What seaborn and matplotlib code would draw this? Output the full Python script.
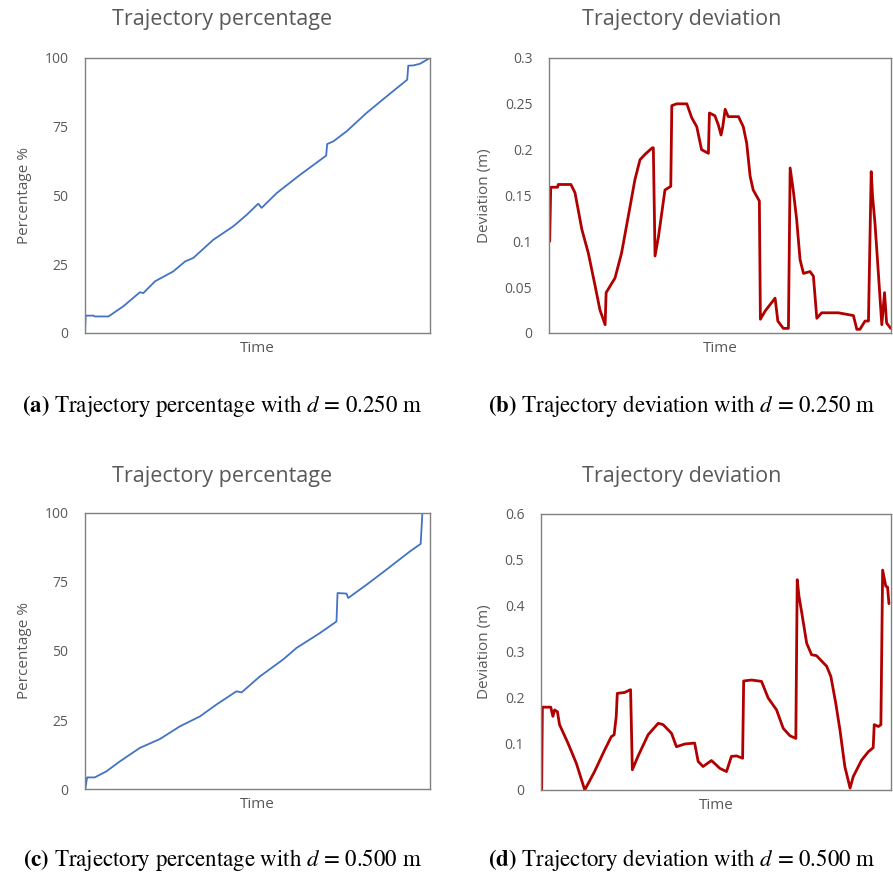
import numpy as np
import pandas as pd
import matplotlib
matplotlib.use('Agg')
import matplotlib.pyplot as plt
import seaborn as sns

# time is normalised to 0..100 (the original plots show no time ticks)
# (a) trajectory percentage, d = 0.250 m
pct_a_time = [0, 0.2, 2.4, 2.9, 6.8, 11.1, 15.9, 16.9, 20.3, 25.6, 29.0, 31.4, 37.2, 43.0,
              46.9, 50.2, 51.2, 55.6, 61.8, 69.9, 70.2, 72.0, 75.8, 81.6, 87.4, 93.4, 93.7,
              95.2, 97.1, 100]
pct_a_vals = [0, 6.3, 6.3, 6.0, 6.0, 9.7, 14.8, 14.5, 18.8, 22.4, 26.0, 27.3, 33.9, 38.8,
              43.0, 47.0, 45.5, 50.9, 57.0, 64.5, 68.7, 69.7, 73.3, 80.0, 86.0, 92.1, 97.2,
              97.3, 97.9, 100]

# (b) trajectory deviation, d = 0.250 m
dev_b_time = [0.2, 0.5, 2.5, 2.7, 6.4, 7.6, 9.6, 11.5, 13.5, 14.9, 16.4, 16.7, 19.3, 21.2,
              23.7, 25.1, 26.6, 28.1, 30.2, 30.5, 31.0, 32.0, 33.9, 35.6, 35.9, 37.3, 40.3,
              41.7, 43.2, 44.6, 46.6, 46.9, 48.5, 49.5, 50.3, 50.8, 51.5, 52.4, 55.4, 56.8,
              57.8, 58.8, 59.7, 61.5, 61.8, 63.2, 66.1, 66.9, 68.5, 70.0, 70.5, 71.4, 72.4,
              73.4, 74.4, 76.3, 77.3, 78.3, 79.7, 82.7, 84.6, 89.0, 90.0, 90.9, 92.4, 93.4,
              94.2, 94.6, 95.3, 96.3, 97.3, 98.1, 98.7, 99.9]
dev_b_vals = [0.100, 0.159, 0.159, 0.162, 0.162, 0.153, 0.113, 0.087, 0.051, 0.025, 0.009, 0.044, 0.060, 0.087,
              0.138, 0.167, 0.189, 0.195, 0.202, 0.202, 0.084, 0.105, 0.156, 0.160, 0.248, 0.250, 0.250,
              0.235, 0.225, 0.200, 0.196, 0.240, 0.237, 0.227, 0.216, 0.225, 0.244, 0.236, 0.236, 0.225,
              0.207, 0.171, 0.156, 0.144, 0.015, 0.024, 0.038, 0.013, 0.005, 0.005, 0.180, 0.156, 0.124,
              0.080, 0.065, 0.067, 0.062, 0.016, 0.022, 0.022, 0.022, 0.019, 0.004, 0.004, 0.013, 0.013,
              0.176, 0.149, 0.120, 0.065, 0.009, 0.044, 0.011, 0.005]

# (c) trajectory percentage, d = 0.500 m
pct_c_time = [0.1, 0.6, 2.8, 6.2, 10.1, 15.9, 21.7, 27.5, 33.3, 38.1, 43.9, 45.4, 50.7,
              57.4, 61.3, 68.1, 72.9, 73.2, 75.8, 76.3, 81.6, 87.4, 94.2, 97.3, 97.8, 100]
pct_c_vals = [0, 4.2, 4.2, 6.4, 10.0, 14.9, 18.1, 22.7, 26.3, 30.6, 35.4, 35.0, 40.8,
              46.9, 51.1, 56.5, 60.7, 71.0, 70.8, 69.2, 74.0, 79.5, 86.1, 88.8, 100, 100]

# (d) trajectory deviation, d = 0.500 m
dev_d_time = [0.2, 0.4, 2.8, 3.4, 3.9, 4.7, 5.3, 7.7, 10.1, 12.5, 15.3, 18.2, 20.1, 20.9,
              21.5, 21.8, 23.9, 25.6, 26.1, 27.7, 30.6, 33.5, 34.9, 37.3, 38.7, 41.1, 43.9,
              44.9, 46.3, 48.7, 51.1, 53.0, 54.4, 55.9, 57.6, 57.9, 60.2, 63.0, 64.9, 67.3,
              69.2, 71.1, 72.8, 73.2, 73.7, 74.5, 75.9, 77.3, 78.7, 81.6, 82.8, 84.2, 85.4,
              86.8, 88.3, 89.2, 91.6, 93.5, 94.9, 95.2, 96.4, 97.1, 97.6, 98.5, 99.0, 99.4]
dev_d_vals = [0, 0.18, 0.18, 0.16, 0.174, 0.17, 0.142, 0.102, 0.058, 0.0, 0.04, 0.087, 0.116, 0.12,
              0.16, 0.21, 0.212, 0.218, 0.044, 0.073, 0.12, 0.145, 0.142, 0.123, 0.094, 0.1, 0.102,
              0.062, 0.051, 0.064, 0.047, 0.04, 0.073, 0.074, 0.069, 0.237, 0.239, 0.236, 0.2, 0.174,
              0.134, 0.118, 0.112, 0.457, 0.421, 0.385, 0.319, 0.294, 0.292, 0.269, 0.247, 0.189, 0.131,
              0.051, 0.004, 0.029, 0.065, 0.083, 0.092, 0.142, 0.138, 0.142, 0.478, 0.443, 0.441, 0.405]

pct_ticks = [0, 25, 50, 75, 100]
dev_b_ticks = [0, 0.05, 0.1, 0.15, 0.2, 0.25, 0.3]
dev_d_ticks = [0, 0.1, 0.2, 0.3, 0.4, 0.5, 0.6]

BLUE = '#4472C4'
RED = '#B00000'
GRAY = '#595959'

sns.set_theme(style='white')
plt.rcParams['font.family'] = ['Open Sans', 'DejaVu Sans']
plt.rcParams['mathtext.fontset'] = 'stix'

fig = plt.figure(figsize=(8.93, 8.76), dpi=100)

panels = [
    # axes rect, title x/y, caption baseline y
    ([0.0952, 0.6199, 0.3863, 0.3139], 0.2486, 0.9772, 0.5297, pct_a_time, pct_a_vals,
     pct_ticks, BLUE, 1.3, 'Percentage %', 'Trajectory percentage', 'a', 'percentage', '0.250'),
    ([0.6148, 0.6199, 0.3830, 0.3139], 0.7637, 0.9772, 0.5297, dev_b_time, dev_b_vals,
     dev_b_ticks, RED, 2.0, 'Deviation (m)', 'Trajectory deviation', 'b', 'deviation', '0.250'),
    ([0.0952, 0.0993, 0.3863, 0.3151], 0.2486, 0.4555, 0.0114, pct_c_time, pct_c_vals,
     pct_ticks, BLUE, 1.3, 'Percentage %', 'Trajectory percentage', 'c', 'percentage', '0.500'),
    ([0.6058, 0.0982, 0.3920, 0.3151], 0.7637, 0.4555, 0.0114, dev_d_time, dev_d_vals,
     dev_d_ticks, RED, 2.0, 'Deviation (m)', 'Trajectory deviation', 'd', 'deviation', '0.500'),
]

for rect, tx, ty, capy, t, v, ticks, color, lw, ylab, title, letter, word, dval in panels:
    assert len(t) == len(v)
    ax = fig.add_axes(rect)
    df = pd.DataFrame({'Time': t, 'Value': v})
    sns.lineplot(data=df, x='Time', y='Value', ax=ax, color=color, linewidth=lw,
                 estimator=None, sort=False)
    ax.set_xlim(0, 100)
    ax.set_ylim(ticks[0], ticks[-1])
    ax.set_xticks([])
    ax.set_yticks(ticks)
    ax.set_yticklabels([f'{x:g}' for x in ticks])
    ax.tick_params(axis='y', length=0, pad=12, labelsize=10, labelcolor=GRAY)
    ax.set_xlabel('Time', fontsize=11, color=GRAY, labelpad=6)
    ax.set_ylabel(ylab, fontsize=11, color=GRAY, labelpad=9)
    for s in ax.spines.values():
        s.set_color('#808080')
        s.set_linewidth(1.0)
    fig.text(tx, ty, title, ha='center', va='center', fontsize=15.5, color=GRAY)
    # sub-figure caption below each panel
    cap = (r'$\mathbf{(' + letter + r')}$ Trajectory ' + word +
           r' with $d$ = ' + dval + ' m')
    fig.text(tx, capy, cap, ha='center', va='baseline', fontsize=16.5,
             family='STIXGeneral', color='black')

plt.savefig('out.png', dpi=100)
